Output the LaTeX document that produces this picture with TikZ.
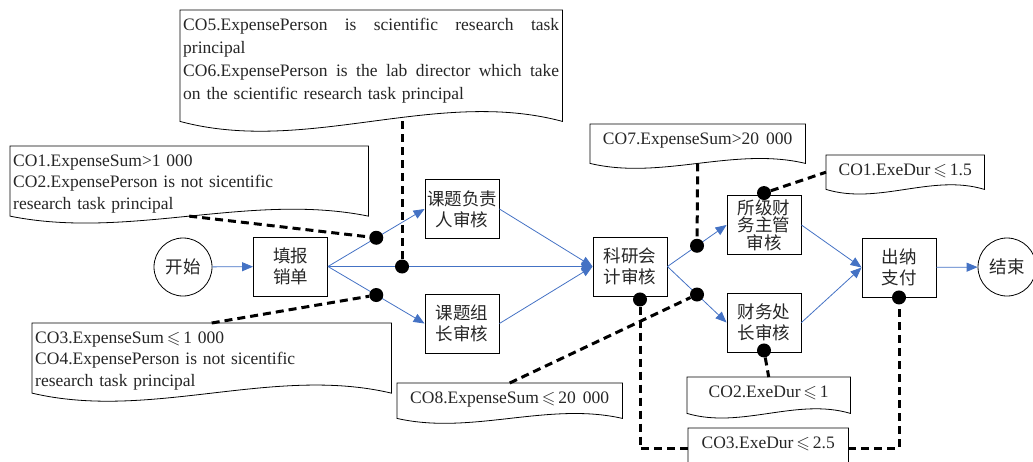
\documentclass[tikz,border=0pt]{standalone}
\usepackage{amsmath,amssymb}
\usepackage{fontspec}
\setmainfont{Liberation Serif}[WordSpace=1.6]
\newfontfamily\cjk{Noto Sans CJK SC}
\usetikzlibrary{arrows.meta,calc}
\definecolor{flowblue}{RGB}{68,114,196}
\newcommand{\notetop}{\rule{0pt}{17pt}}
\newcommand{\notetail}[1]{\rule[-#1pt]{0pt}{#1pt}}
\newcommand{\fullline}[1]{\leavevmode\hbox to\linewidth{#1}}
\newcommand{\docframe}[2]{%
  \draw[line width=0.8pt] (#1.south west) -- (#1.north west) -- (#1.north east) -- (#1.south east)
    .. controls ($(#1.south east)!0.33!(#1.south west)+(0,-#2)$)
    and ($(#1.south east)!0.67!(#1.south west)+(0,#2)$) .. (#1.south west) -- cycle;}

\begin{document}
\begin{tikzpicture}[x=1pt,y=-1pt,
  every node/.style={font=\fontsize{17.5}{21.5}\selectfont},
  box/.style={draw, line width=0.9pt, minimum width=74pt, minimum height=59pt,
    inner sep=0pt, align=center, font=\cjk\fontsize{17.5}{21}\selectfont, text=black!85},
  term/.style={draw, circle, line width=0.8pt, minimum size=58pt, inner sep=0pt,
    font=\cjk\fontsize{17.5}{21}\selectfont, text=black!85},
  flow/.style={draw=flowblue, line width=0.8pt, -{Triangle[length=11pt,width=9pt]}},
  dot/.style={circle, fill=black, inner sep=0pt, minimum size=14pt},
  cond/.style={line width=3pt, dash pattern=on 8pt off 5pt},
  note/.style={anchor=north west, inner xsep=3pt, inner ysep=3pt, text=black!85}]
  \clip (0,0) rectangle (1033,461);

  \node[term] (start) at (183,267) {开始};
  \node[box] (report) at (290.5,266.5) {填报\\销单};
  \node[box] (leader) at (462,209) {课题负责\\人审核};
  \node[box] (group) at (462,323.5) {课题组\\长审核};
  \node[box] (account) at (630,266.5) {科研会\\计审核};
  \node[box, font=\cjk\fontsize{17.5}{17.5}\selectfont] (dept) at (764,225) {所级财\\务主管\\审核};
  \node[box] (office) at (764,322.5) {财务处\\长审核};
  \node[box] (cashier) at (899,267.5) {出纳\\支付};
  \node[term] (finish) at (1007,267) {结束};

  \draw[flow] (start) -- (report);
  \draw[flow] (report.east) -- (leader.west);
  \draw[flow] (report.east) -- (account.west);
  \draw[flow] (report.east) -- (group.west);
  \draw[flow] (leader.east) -- (account.west);
  \draw[flow] (group.east) -- (account.west);
  \draw[flow] (account.east) -- (dept.west);
  \draw[flow] (account.east) -- (office.west);
  \draw[flow] (dept.east) -- (cashier.west);
  \draw[flow] (office.east) -- (cashier.west);
  \draw[flow] (cashier) -- (finish);

  \node[dot] (dA) at ($(report.east)!0.5!(leader.west)$) {};
  \node[dot] (dB) at ($(report.east)!0.28!(account.west)$) {};
  \node[dot] (dC) at ($(report.east)!0.5!(group.west)$) {};
  \node[dot] (dD) at ($(account.east)!0.5!(dept.west)$) {};
  \node[dot] (dE) at ($(account.east)!0.5!(office.west)$) {};
  \node[dot] (dF) at ($(account.south)+(10,3)$) {};
  \node[dot] (dG) at ($(dept.north)+(0,-2)$) {};
  \node[dot] (dH) at ($(office.south)+(0,-2)$) {};
  \node[dot] (dI) at (cashier.south) {};

  \node[note, text width=376pt, font=\fontsize{17.5}{23}\selectfont] (n56) at (180,10)
    {\notetop\fullline{CO5.ExpensePerson\hfill is\hfill scientific\hfill research\hfill task}\\principal\\
     \fullline{CO6.ExpensePerson\hfill is\hfill the\hfill lab\hfill director\hfill which\hfill take}\\
     on the scientific research task principal\notetail{19}};
  \node[note, text width=352pt, align=left] (n12) at (10,146)
    {\notetop CO1.ExpenseSum>1 000\\CO2.ExpensePerson is not sicentific\\research task principal};
  \node[note, text width=353pt, align=left] (n34) at (32,323)
    {\notetop CO3.ExpenseSum$\,\leqslant\,$1 000\\CO4.ExpensePerson is not sicentific\\research task principal};
  \node[note, minimum width=215pt] (n7) at (590,124) {\notetop CO7.ExpenseSum>20 000\notetail{16}};
  \node[note, minimum width=158pt] (nexe1) at (826,155) {\notetop CO1.ExeDur$\,\leqslant\,$1.5\notetail{11}};
  \node[note, minimum width=225pt] (n8) at (397,383) {\notetop CO8.ExpenseSum$\,\leqslant\,$20 000\notetail{12}};
  \node[note, minimum width=163pt] (nexe2) at (687,377) {\notetop CO2.ExeDur$\,\leqslant\,$1\notetail{13}};
  \node[note, minimum width=160pt] (nexe3) at (688,428) {\notetop CO3.ExeDur$\,\leqslant\,$2.5\notetail{17}};
  \docframe{n56}{34}
  \docframe{n12}{24}
  \docframe{n34}{28}
  \docframe{n7}{17}
  \docframe{nexe1}{16}
  \docframe{n8}{17}
  \docframe{nexe2}{16}
  \docframe{nexe3}{16}

  \draw[cond] (n12.south) -- (dA);
  \draw[cond] (n56.south -| dB) -- (dB);
  \draw[cond] (n34.north) -- (dC);
  \draw[cond] (n7.south) -- (dD);
  \draw[cond] (n8.north) -- (dE);
  \draw[cond] (dF) |- (nexe3.west);
  \draw[cond] (nexe3.east) -| (dI);
  \draw[cond] (dG) -- (nexe1.west);
  \draw[cond] (dH) -- (nexe2.north);
\end{tikzpicture}
\end{document}
